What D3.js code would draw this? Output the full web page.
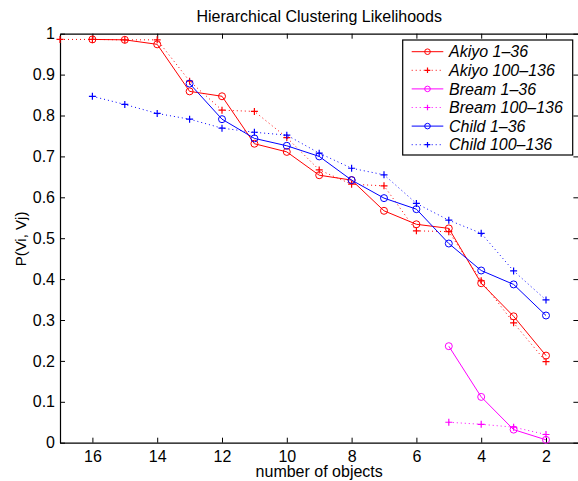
<!DOCTYPE html>
<html>
<head>
<meta charset="utf-8">
<script src="https://cdnjs.cloudflare.com/ajax/libs/d3/7.8.5/d3.min.js"></script>
<style>
  body { margin: 0; background: #fff; }
  svg text { font-family: "Liberation Sans", Arial, Helvetica, sans-serif; }
</style>
</head>
<body>
<div id="chart"></div>
<script>
// number of objects (x) for each series
var xAkiyo1 = [16, 15, 14, 13, 12, 11, 10, 9, 8, 7, 6, 5, 4, 3, 2];
var akiyo1 = [0.986, 0.985, 0.974, 0.859, 0.847, 0.731, 0.711, 0.654, 0.642, 0.567, 0.534, 0.524, 0.390, 0.309, 0.213];

var xAkiyo100 = [17, 16, 15, 14, 13, 12, 11, 10, 9, 8, 7, 6, 5, 4, 3, 2];
var akiyo100 = [0.986, 0.986, 0.985, 0.985, 0.884, 0.813, 0.810, 0.746, 0.667, 0.632, 0.628, 0.518, 0.516, 0.396, 0.293, 0.198];

var xBream = [5, 4, 3, 2];
var bream1 = [0.236, 0.112, 0.032, 0.007];
var bream100 = [0.050, 0.045, 0.038, 0.020];

var xChild1 = [13, 12, 11, 10, 9, 8, 7, 6, 5, 4, 3, 2];
var child1 = [0.878, 0.791, 0.744, 0.726, 0.700, 0.642, 0.598, 0.571, 0.487, 0.421, 0.387, 0.311];

var xChild100 = [16, 15, 14, 13, 12, 11, 10, 9, 8, 7, 6, 5, 4, 3, 2];
var child100 = [0.847, 0.827, 0.805, 0.791, 0.769, 0.759, 0.752, 0.708, 0.671, 0.655, 0.585, 0.544, 0.512, 0.420, 0.349];

var seriesNames = ["Akiyo 1\u201336", "Akiyo 100\u2013136", "Bream 1\u201336", "Bream 100\u2013136", "Child 1\u201336", "Child 100\u2013136"];

var xTicks = [16, 14, 12, 10, 8, 6, 4, 2];
var yTicks = [0, 0.1, 0.2, 0.3, 0.4, 0.5, 0.6, 0.7, 0.8, 0.9, 1];

var series = [
    {name: seriesNames[0], xs: xAkiyo1, ys: akiyo1, color: "#ff0000", dotted: false, marker: "o"},
    {name: seriesNames[1], xs: xAkiyo100, ys: akiyo100, color: "#ff0000", dotted: true, marker: "+"},
    {name: seriesNames[2], xs: xBream, ys: bream1, color: "#ff00ff", dotted: false, marker: "o"},
    {name: seriesNames[3], xs: xBream, ys: bream100, color: "#ff00ff", dotted: true, marker: "+"},
    {name: seriesNames[4], xs: xChild1, ys: child1, color: "#0000ff", dotted: false, marker: "o"},
    {name: seriesNames[5], xs: xChild100, ys: child100, color: "#0000ff", dotted: true, marker: "+"}
];

var width = 578, height = 481;
var margin = {top: 33.7, left: 60};
var w = 518.4, h = 409;

var svg = d3.select("#chart").append("svg")
    .attr("width", width)
    .attr("height", height);

var g = svg.append("g")
    .attr("transform", "translate(" + margin.left + "," + margin.top + ")");

var x = d3.scaleLinear().domain([17, 1]).range([0, w]);
var y = d3.scaleLinear().domain([0, 1]).range([h, 0]);
var fmt = d3.format("~f");

function styleAxis(sel) {
    sel.selectAll("path").attr("stroke", "#000").attr("stroke-width", 1.2);
    sel.selectAll("line").attr("stroke", "#000").attr("stroke-width", 1);
    sel.selectAll("text").attr("fill", "#000").style("font-size", "16px");
}

g.append("g")
    .attr("transform", "translate(0," + h + ")")
    .call(d3.axisBottom(x).tickValues(xTicks).tickSizeInner(-5).tickSizeOuter(0).tickPadding(8))
    .call(styleAxis);

g.append("g")
    .call(d3.axisTop(x).tickValues(xTicks).tickSizeInner(-5).tickSizeOuter(0).tickFormat(""))
    .call(styleAxis);

g.append("g")
    .call(d3.axisLeft(y).tickValues(yTicks).tickSizeInner(-5).tickSizeOuter(0).tickPadding(5).tickFormat(fmt))
    .call(styleAxis);

g.append("g")
    .attr("transform", "translate(" + w + ",0)")
    .call(d3.axisRight(y).tickValues(yTicks).tickSizeInner(-5).tickSizeOuter(0).tickFormat(""))
    .call(styleAxis);

var line = d3.line()
    .x(function (d) { return x(d[0]); })
    .y(function (d) { return y(d[1]); });

function drawMarker(sel, type, color, size) {
    if (type === "o") {
        sel.append("circle")
            .attr("r", size)
            .attr("fill", "none")
            .attr("stroke", color)
            .attr("stroke-width", 1);
    } else {
        sel.append("path")
            .attr("d", "M" + (-size) + ",0H" + size + "M0," + (-size) + "V" + size)
            .attr("stroke", color)
            .attr("stroke-width", 1.2);
    }
}

series.forEach(function (s) {
    var pts = s.xs.map(function (xv, i) { return [xv, s.ys[i]]; });
    g.append("path")
        .datum(pts)
        .attr("d", line)
        .attr("fill", "none")
        .attr("stroke", s.color)
        .attr("stroke-width", 1)
        .attr("stroke-dasharray", s.dotted ? "1,3" : null);
    g.selectAll(null)
        .data(pts)
        .enter().append("g")
        .attr("transform", function (d) { return "translate(" + x(d[0]) + "," + y(d[1]) + ")"; })
        .each(function () { drawMarker(d3.select(this), s.marker, s.color, 3.5); });
});

// title and axis labels
svg.append("text")
    .attr("x", margin.left + w / 2)
    .attr("y", 22)
    .attr("text-anchor", "middle")
    .style("font-size", "16px")
    .text("Hierarchical Clustering Likelihoods");

svg.append("text")
    .attr("x", margin.left + w / 2)
    .attr("y", 477)
    .attr("text-anchor", "middle")
    .style("font-size", "16px")
    .text("number of objects");

svg.append("text")
    .attr("transform", "translate(26,239) rotate(-90)")
    .attr("text-anchor", "middle")
    .style("font-size", "15px")
    .text("P(Vi, Vj)");

// legend
var legend = svg.append("g");
legend.append("rect")
    .attr("x", 402.7)
    .attr("y", 40)
    .attr("width", 170)
    .attr("height", 115)
    .attr("fill", "#fff")
    .attr("stroke", "#000")
    .attr("stroke-width", 1.2);

series.forEach(function (s, i) {
    var ly = 51.7 + i * 18.6;
    legend.append("line")
        .attr("x1", 411.7).attr("x2", 443.3)
        .attr("y1", ly).attr("y2", ly)
        .attr("stroke", s.color)
        .attr("stroke-width", 1)
        .attr("stroke-dasharray", s.dotted ? "1,3" : null);
    drawMarker(legend.append("g").attr("transform", "translate(427.5," + ly + ")"), s.marker, s.color, 2.8);
    legend.append("text")
        .attr("x", 449)
        .attr("y", ly + 5.6)
        .style("font-size", "16px")
        .style("font-style", "italic")
        .text(s.name);
});
</script>
</body>
</html>
